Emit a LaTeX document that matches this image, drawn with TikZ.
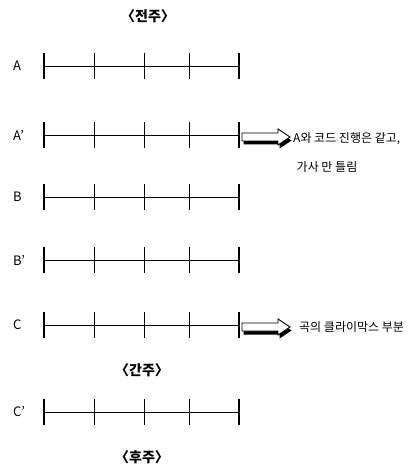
\documentclass[tikz,border=0pt]{standalone}
\usepackage{fontspec}
\setmainfont{Noto Sans CJK KR}
\usetikzlibrary{positioning}

\tikzset{
    callout/.pic={
        \fill[black, shift={(1.5,3.5)}] (0,-4) -- (36,-4) -- (36,-8) -- (48,0) -- (36,8) -- (36,4) -- (0,4) -- cycle;
        \filldraw[fill=white, line width=0.9pt] (0,-4) -- (36,-4) -- (36,-8) -- (48,0) -- (36,8) -- (36,4) -- (0,4) -- cycle;
    }
}

\begin{document}
\begin{tikzpicture}[x=1pt, y=-1pt,
    bar/.style={line width=0.7pt},
    endbar/.style={line width=1.6pt},
    part/.style={font=\fontsize{13}{15}\selectfont, anchor=west, inner sep=0pt},
    section/.style={font=\fontsize{14}{16}\selectfont\bfseries, inner sep=0pt},
    note/.style={font=\fontsize{12}{14}\selectfont, inner sep=0pt}]
    \useasboundingbox (0,0) rectangle (416,473);

    % headings
    \node[section] (intro) at (148,16) {〈전주〉};
    \node[section] (inter) at (142,370) {〈간주〉};
    \node[section] (outro) at (142,457) {〈후주〉};

    % four-bar lines
    \foreach \name/\lab/\y in {A/A/66, Ap/A'/135, B/B/197, Bp/B'/260, C/C/325, Cp/C'/412} {
        \node[part] (lab-\name) at (13,\y) {\lab};
        \coordinate (\name-start) at (44,\y);
        \coordinate (\name-end) at (239,\y);
        \draw[bar] (\name-start) -- (\name-end);
        \foreach \x in {94,144,189}
            \draw[bar] (\x,\y-13) -- (\x,\y+13);
        \draw[endbar] ([yshift=-13pt]\name-start) -- ([yshift=13pt]\name-start);
        \draw[endbar] ([yshift=-13pt]\name-end) -- ([yshift=13pt]\name-end);
    }

    % remarks
    \pic at ([xshift=3pt, yshift=-2pt]Ap-end) {callout};
    \node[note, anchor=west] (note-Ap) at (293,139) {A와 코드 진행은 같고,};
    \node[note] (note-Ap2) at (327,167) {가사 만 틀림};

    \pic at ([xshift=3pt, yshift=-2pt]C-end) {callout};
    \node[note, anchor=west] (note-C) at (299,327) {곡의 클라이막스 부분};
\end{tikzpicture}
\end{document}
